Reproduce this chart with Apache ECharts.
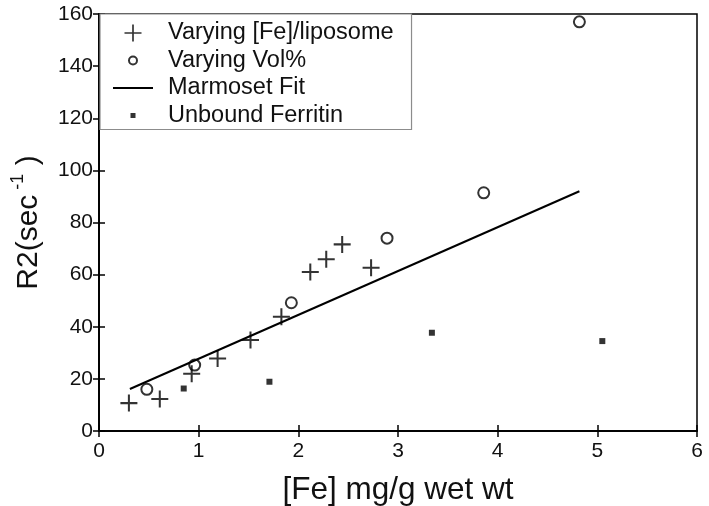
<!DOCTYPE html>
<html>
<head>
<meta charset="utf-8">
<script src="https://cdn.jsdelivr.net/npm/echarts@6/dist/echarts.min.js"></script>
<style>html,body{margin:0;padding:0;background:#fff}#c{width:709px;height:506px}</style>
</head>
<body>
<div id="c"></div>
<script>
var xTicks = [0, 1, 2, 3, 4, 5, 6];
var yTicks = [0, 20, 40, 60, 80, 100, 120, 140, 160];
var seriesNames = ['Varying [Fe]/liposome', 'Varying Vol%', 'Marmoset Fit', 'Unbound Ferritin'];
var feLiposome = [[0.30, 10.7], [0.61, 12.3], [0.93, 22.0], [1.19, 27.8], [1.52, 34.9], [1.83, 43.8], [2.12, 61.0], [2.28, 65.9], [2.44, 71.6], [2.73, 62.6]];
var volPct = [[0.48, 16.0], [0.96, 25.3], [1.93, 49.2], [2.89, 74.0], [3.86, 91.4], [4.82, 157.0]];
var marmosetFit = [[0.31, 16.1], [4.82, 92.0]];
var unboundFerritin = [[0.85, 16.3], [1.71, 18.9], [3.34, 37.7], [5.05, 34.5]];

var FONT = '"Liberation Sans", Arial, Helvetica, sans-serif';
var plusPath = 'path://M4.4,0h1.2v4.4h4.4v1.2h-4.4v4.4h-1.2v-4.4h-4.4v-1.2h4.4z';
// legend icons in a 40x20 box; tiny corner dots fix the bounding box
var corners = 'M0,0h0.02v0.02h-0.02z M39.98,19.98h0.02v0.02h-0.02z ';
var legPlus = 'path://' + corners + 'M19.15,1.5h1.7v7.65h7.65v1.7h-7.65v7.65h-1.7v-7.65h-7.65v-1.7h7.65z';
var legRing = 'path://' + corners + 'M15,10a5,5 0 1,0 10,0a5,5 0 1,0 -10,0z M17,10a3,3 0 1,1 6,0a3,3 0 1,1 -6,0z';
var legLine = 'path://' + corners + 'M0,9h40v2h-40z';
var legSquare = 'path://' + corners + 'M17.5,7.5h5v5h-5z';
var legendIcons = [legPlus, legRing, legLine, legSquare];

var chart = echarts.init(document.getElementById('c'), null, {renderer: 'canvas'});
var tickCommon = {show: true, inside: true, length: 6, lineStyle: {color: '#000', width: 1.5}};
chart.setOption({
  animation: false,
  backgroundColor: '#fff',
  textStyle: {fontFamily: FONT, color: '#000'},
  grid: {left: 99, right: 12, top: 14, bottom: 75, containLabel: false, outerBoundsMode: 'none',
    show: true, borderColor: '#000', borderWidth: 1.5, backgroundColor: 'transparent'},
  legend: {
    orient: 'vertical', left: 100, top: 14,
    data: seriesNames.map(function (n, i) {
      return {name: n, icon: legendIcons[i], itemStyle: {color: '#000', borderWidth: 0}};
    }),
    backgroundColor: '#fff', borderColor: '#8c8c8c', borderWidth: 1.2,
    padding: [7, 18, 2, 13],
    itemGap: 3.5, itemWidth: 40, itemHeight: 20,
    textStyle: {fontFamily: FONT, fontSize: 23.5, color: '#111', padding: [0, 0, 0, 10]}
  },
  xAxis: [{
    type: 'value', min: xTicks[0], max: xTicks[xTicks.length - 1], interval: 1,
    name: '[Fe] mg/g wet wt', nameLocation: 'middle', nameGap: 43,
    nameTextStyle: {fontSize: 31.5, fontFamily: FONT, color: '#111'},
    axisLine: {show: true, lineStyle: {color: '#000', width: 1.5}},
    axisTick: tickCommon,
    axisLabel: {fontSize: 21, color: '#111', margin: 10, fontFamily: FONT},
    splitLine: {show: false}
  }, {
    type: 'value', position: 'top', min: xTicks[0], max: xTicks[xTicks.length - 1], interval: 1,
    axisLine: {show: true, lineStyle: {color: '#000', width: 1.5}},
    axisTick: tickCommon, axisLabel: {show: false}, splitLine: {show: false}
  }],
  yAxis: [{
    type: 'value', min: yTicks[0], max: yTicks[yTicks.length - 1], interval: 20,
    name: '{a|R2(sec}{s| -1}{a| )}', nameLocation: 'middle', nameGap: 50,
    nameTextStyle: {
      fontSize: 30, fontFamily: FONT, color: '#111',
      rich: {
        a: {fontSize: 30, fontFamily: FONT, color: '#111'},
        s: {fontSize: 18, fontFamily: FONT, color: '#111', padding: [0, 0, 22, 0]}
      }
    },
    axisLine: {show: true, lineStyle: {color: '#000', width: 1.5}},
    axisTick: tickCommon,
    axisLabel: {fontSize: 21, color: '#111', margin: 6, fontFamily: FONT},
    splitLine: {show: false}
  }, {
    type: 'value', position: 'right', min: yTicks[0], max: yTicks[yTicks.length - 1], interval: 20,
    axisLine: {show: true, lineStyle: {color: '#000', width: 1.5}},
    axisTick: tickCommon, axisLabel: {show: false}, splitLine: {show: false}
  }],
  series: [{
    name: seriesNames[0], type: 'scatter', data: feLiposome,
    symbol: plusPath, symbolSize: 17, itemStyle: {color: '#000'}, z: 3
  }, {
    name: seriesNames[1], type: 'scatter', data: volPct,
    symbol: 'circle', symbolSize: 11,
    itemStyle: {color: 'rgba(255,255,255,0)', borderColor: '#000', borderWidth: 2}, z: 3
  }, {
    name: seriesNames[2], type: 'line', data: marmosetFit,
    symbol: 'none', lineStyle: {color: '#000', width: 2}, itemStyle: {color: '#000'}, z: 2
  }, {
    name: seriesNames[3], type: 'scatter', data: unboundFerritin,
    symbol: 'rect', symbolSize: 6, itemStyle: {color: '#000'}, z: 3
  }]
});
</script>
</body>
</html>
